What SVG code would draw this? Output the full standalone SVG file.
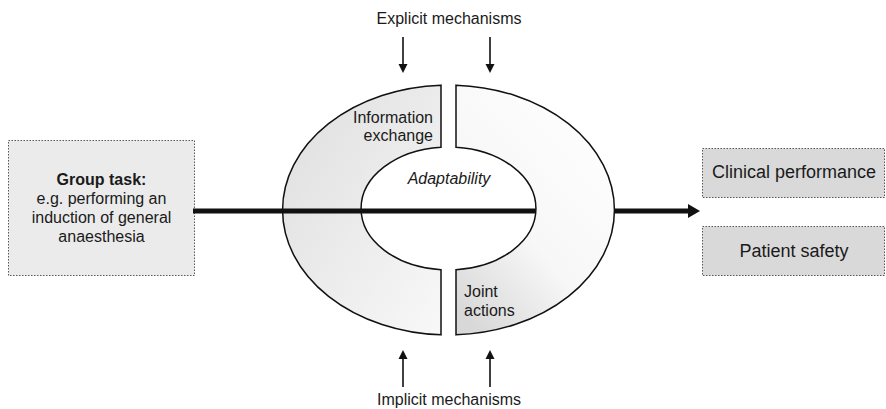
<svg xmlns="http://www.w3.org/2000/svg" width="886" height="409" viewBox="0 0 886 409">
  <defs>
    <style>
      text { font-family: "Liberation Sans", Arial, sans-serif; fill: #1a1a1a; }
      .lbl { font-size: 16px; }
      .box { stroke: #555; stroke-width: 1; stroke-dasharray: 1.5 1.5; }
      .ring { stroke: #111; stroke-width: 1.5; }
      .thin { stroke: #111; stroke-width: 1.6; fill: none; }
    </style>
    <linearGradient id="gLeft" x1="0" y1="0" x2="1" y2="1">
      <stop offset="0" stop-color="#dedede"/>
      <stop offset="1" stop-color="#f8f8f8"/>
    </linearGradient>
    <linearGradient id="gRight" x1="0.15" y1="1" x2="0.85" y2="0">
      <stop offset="0" stop-color="#d8d8d8"/>
      <stop offset="0.4" stop-color="#f7f7f7"/>
      <stop offset="1" stop-color="#ffffff"/>
    </linearGradient>
  </defs>

  <!-- input task box -->
  <g id="task">
    <rect class="box" x="8.5" y="140.5" width="186" height="135" fill="#ebebeb"/>
    <text x="101.5" y="185" text-anchor="middle" font-weight="bold" font-size="16">Group task:</text>
    <text x="101.5" y="204" text-anchor="middle" font-size="16">e.g. performing an</text>
    <text x="101.5" y="223" text-anchor="middle" font-size="16">induction of general</text>
    <text x="101.5" y="242" text-anchor="middle" font-size="16">anaesthesia</text>
  </g>

  <!-- outcome boxes -->
  <g id="clinical">
    <rect class="box" x="702.5" y="148.5" width="182" height="49" fill="#d9d9d9"/>
    <text x="794" y="178" text-anchor="middle" font-size="18">Clinical performance</text>
  </g>
  <g id="safety">
    <rect class="box" x="702.5" y="226.5" width="182" height="49" fill="#d9d9d9"/>
    <text x="794" y="257" text-anchor="middle" font-size="18">Patient safety</text>
  </g>

  <!-- left half of the cycle: information exchange -->
  <g id="info">
    <path class="ring" fill="url(#gLeft)"
      d="M441,85.13 A166,125 0 0 0 441,334.87 L441,269.77 A87.5,61.5 0 0 1 441,147.23 Z"/>
    <text class="lbl" x="433" y="123" text-anchor="end">Information</text>
    <text class="lbl" x="433" y="141" text-anchor="end">exchange</text>
  </g>

  <!-- main flow line, passes over the left half -->
  <g id="connectors">
    <line x1="193" y1="211" x2="692" y2="211" stroke="#111" stroke-width="5"/>
    <path d="M688,204 L700,211 L688,218 Z" fill="#111"/>
    <line class="thin" x1="403" y1="37" x2="403" y2="66"/>
    <path d="M398.5,64 L403,73 L407.5,64 Z" fill="#111"/>
    <line class="thin" x1="490" y1="37" x2="490" y2="66"/>
    <path d="M485.5,64 L490,73 L494.5,64 Z" fill="#111"/>
    <line class="thin" x1="403" y1="357" x2="403" y2="387"/>
    <path d="M398.5,359 L403,350 L407.5,359 Z" fill="#111"/>
    <line class="thin" x1="490" y1="357" x2="490" y2="387"/>
    <path d="M485.5,359 L490,350 L494.5,359 Z" fill="#111"/>
  </g>

  <!-- right half of the cycle: joint actions (covers the flow line) -->
  <g id="joint">
    <path class="ring" fill="url(#gRight)"
      d="M456,85.13 A166,125 0 0 1 456,334.87 L456,269.77 A87.5,61.5 0 0 0 456,147.23 Z"/>
    <text class="lbl" x="464" y="297">Joint</text>
    <text class="lbl" x="464" y="316">actions</text>
  </g>

  <g id="adapt">
    <text class="lbl" x="449" y="184" text-anchor="middle" font-style="italic">Adaptability</text>
  </g>

  <g id="explicit">
    <text class="lbl" x="449" y="24" text-anchor="middle">Explicit mechanisms</text>
  </g>
  <g id="implicit">
    <text class="lbl" x="449" y="405" text-anchor="middle">Implicit mechanisms</text>
  </g>
</svg>
